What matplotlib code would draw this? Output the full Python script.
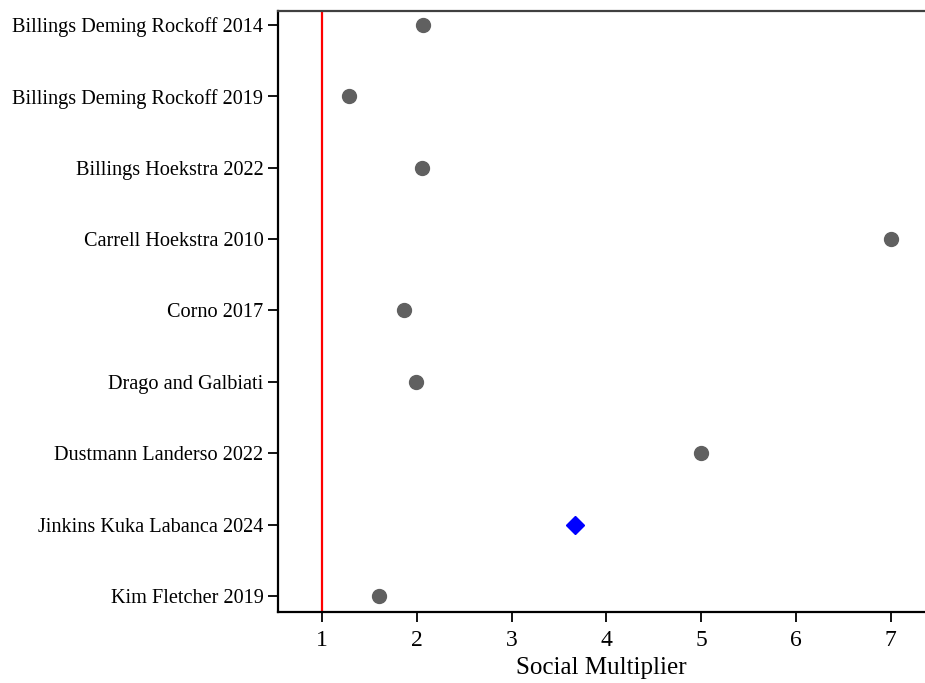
import numpy as np
import matplotlib.pyplot as plt

plt.rcParams['font.family'] = ['Liberation Serif', 'DejaVu Serif']

studies = ["Billings Deming Rockoff 2014", "Billings Deming Rockoff 2019",
           "Billings Hoekstra 2022", "Carrell Hoekstra 2010", "Corno 2017",
           "Drago and Galbiati", "Dustmann Landerso 2022",
           "Jinkins Kuka Labanca 2024", "Kim Fletcher 2019"]
multiplier = [2.07, 1.29, 2.05, 7.0, 1.86, 1.99, 5.0, 3.67, 1.60]
highlight = "Jinkins Kuka Labanca 2024"
xticks = [1, 2, 3, 4, 5, 6, 7]

fig = plt.figure(figsize=(9.25, 6.83), dpi=100)
ax = fig.add_axes([0.3005, 0.104, 0.6995, 0.88])

ypos = np.arange(len(studies))
for y, name, val in zip(ypos, studies, multiplier):
    if name == highlight:
        ax.plot(val, y, marker='D', color='#0000ff', ms=9.2, ls='none', zorder=3)
    else:
        ax.plot(val, y, marker='o', color='#606060', ms=10, ls='none', zorder=3)

ax.axvline(1, color='#ff0000', lw=1.6, zorder=2)

ax.set_yticks(ypos)
ax.set_yticklabels(studies, fontsize=14.6)
ax.set_ylim(len(studies) - 1 + 0.224, -0.196)
ax.set_xticks(xticks)
ax.set_xticklabels([str(t) for t in xticks], fontsize=17)
ax.set_xlim(0.536, 7.36)
ax.set_xlabel("Social Multiplier", fontsize=18, labelpad=4)

ax.spines['right'].set_visible(False)
ax.spines['left'].set_linewidth(1.6)
ax.spines['bottom'].set_linewidth(1.6)
ax.spines['top'].set_linewidth(1.6)
ax.spines['top'].set_color('#404040')
ax.tick_params(axis='both', length=7, width=1.3, direction='out')
ax.tick_params(axis='x', pad=6)

fig.savefig("out.png", dpi=100)
